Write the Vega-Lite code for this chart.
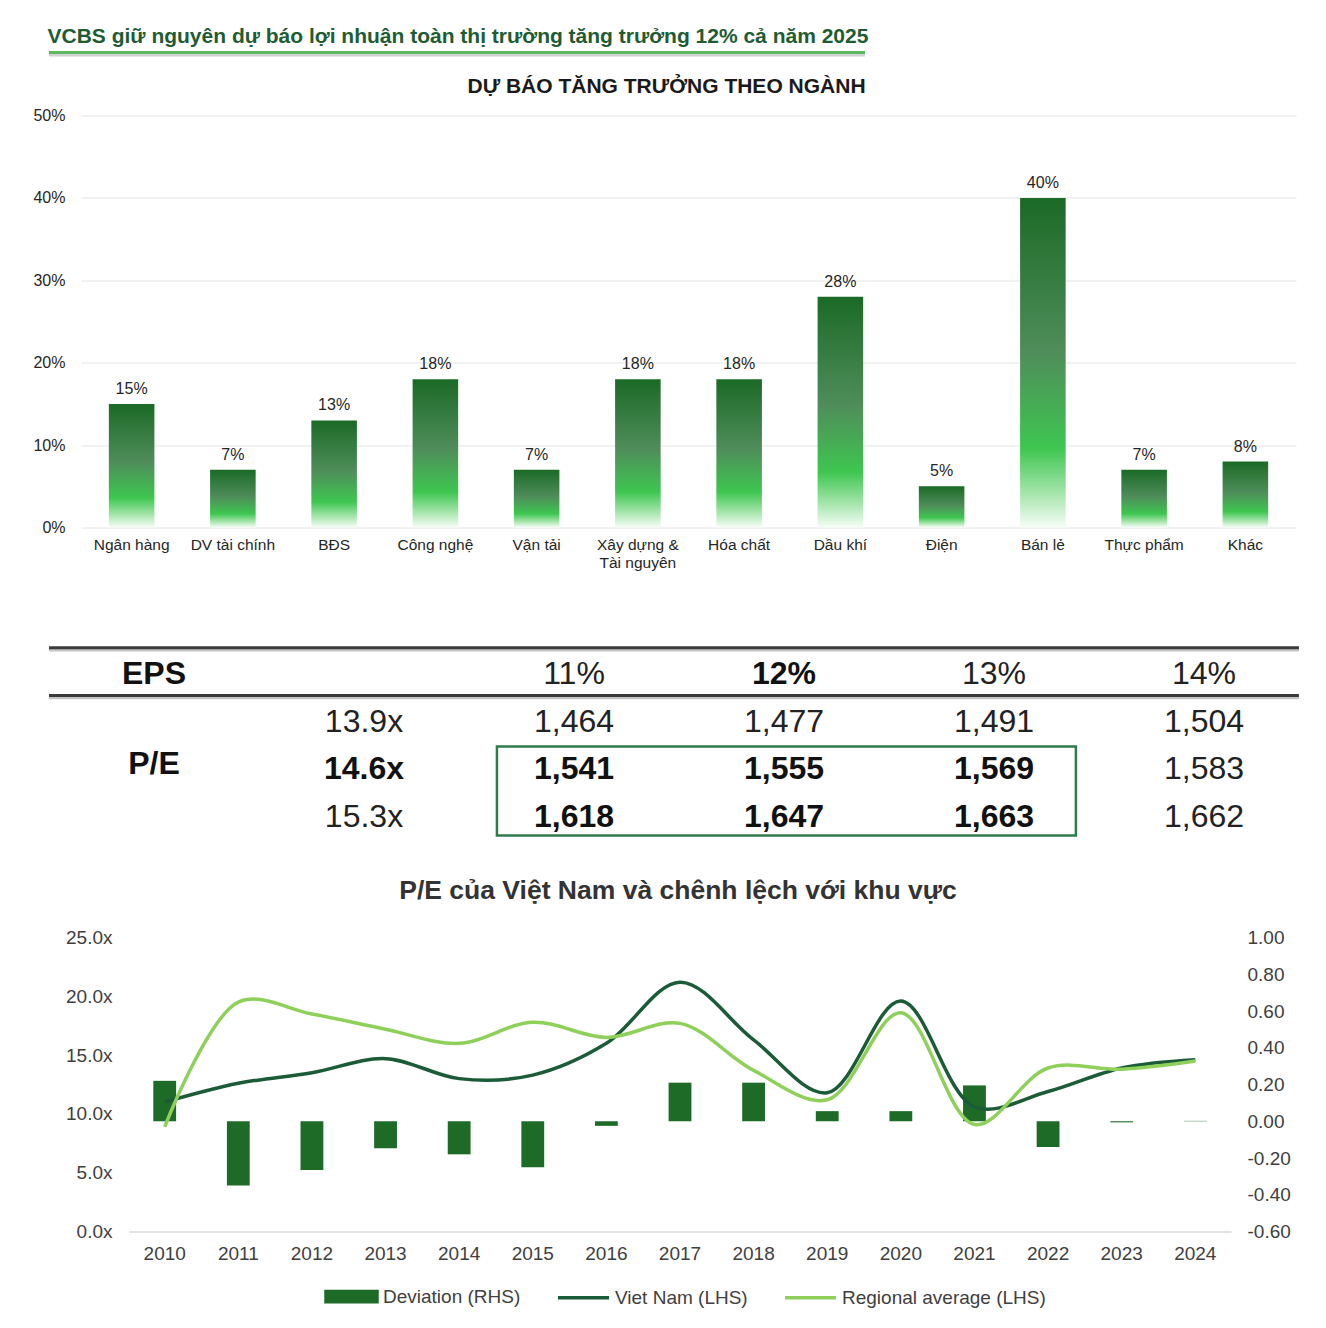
{
  "$schema": "https://vega.github.io/schema/vega-lite/v6.json",
  "background": "white",
  "padding": {"left": 32, "top": 25.5, "right": 10, "bottom": 10},
  "bounds": "flush",
  "spacing": 0,
  "config": {
    "font": "Liberation Sans",
    "view": {"stroke": null},
    "axis": {"labelFont": "Liberation Sans"},
    "legend": {"labelFont": "Liberation Sans"},
    "title": {"font": "Liberation Sans"}
  },
  "datasets": {
    "sectors": [
      {"sector": "Ngân hàng", "growth": 0.15},
      {"sector": "DV tài chính", "growth": 0.07},
      {"sector": "BĐS", "growth": 0.13},
      {"sector": "Công nghệ", "growth": 0.18},
      {"sector": "Vận tải", "growth": 0.07},
      {"sector": "Xây dựng & Tài nguyên", "growth": 0.18},
      {"sector": "Hóa chất", "growth": 0.18},
      {"sector": "Dầu khí", "growth": 0.28},
      {"sector": "Điện", "growth": 0.05},
      {"sector": "Bán lẻ", "growth": 0.40},
      {"sector": "Thực phẩm", "growth": 0.07},
      {"sector": "Khác", "growth": 0.08}
    ],
    "tableLines": [
      {"r": -0.55, "x0": -0.5, "x1": 5.452},
      {"r": 0.45, "x0": -0.5, "x1": 5.452}
    ],
    "tableBox": [
      {"x0": 1.633, "x1": 4.39, "r0": 1.52, "r1": 3.386}
    ],
    "tableCells": [
      {"row": 0, "col": 0, "label": "EPS", "bold": true},
      {"row": 0, "col": 2, "label": "11%", "bold": false},
      {"row": 0, "col": 3, "label": "12%", "bold": true},
      {"row": 0, "col": 4, "label": "13%", "bold": false},
      {"row": 0, "col": 5, "label": "14%", "bold": false},
      {"row": 1, "col": 1, "label": "13.9x", "bold": false},
      {"row": 1, "col": 2, "label": "1,464", "bold": false},
      {"row": 1, "col": 3, "label": "1,477", "bold": false},
      {"row": 1, "col": 4, "label": "1,491", "bold": false},
      {"row": 1, "col": 5, "label": "1,504", "bold": false},
      {"row": 1.877, "col": 0, "label": "P/E", "bold": true},
      {"row": 2, "col": 1, "label": "14.6x", "bold": true},
      {"row": 2, "col": 2, "label": "1,541", "bold": true},
      {"row": 2, "col": 3, "label": "1,555", "bold": true},
      {"row": 2, "col": 4, "label": "1,569", "bold": true},
      {"row": 2, "col": 5, "label": "1,583", "bold": false},
      {"row": 3, "col": 1, "label": "15.3x", "bold": false},
      {"row": 3, "col": 2, "label": "1,618", "bold": true},
      {"row": 3, "col": 3, "label": "1,647", "bold": true},
      {"row": 3, "col": 4, "label": "1,663", "bold": true},
      {"row": 3, "col": 5, "label": "1,662", "bold": false}
    ],
    "pe": [
      {"year": "2010", "dev": 0.22, "vn": 11.0, "reg": 8.9},
      {"year": "2011", "dev": -0.35, "vn": 12.6, "reg": 19.5},
      {"year": "2012", "dev": -0.265, "vn": 13.5, "reg": 18.5},
      {"year": "2013", "dev": -0.147, "vn": 14.7, "reg": 17.2},
      {"year": "2014", "dev": -0.18, "vn": 13.0, "reg": 16.0},
      {"year": "2015", "dev": -0.25, "vn": 13.3, "reg": 17.8},
      {"year": "2016", "dev": -0.025, "vn": 16.0, "reg": 16.5},
      {"year": "2017", "dev": 0.21, "vn": 21.2, "reg": 17.7},
      {"year": "2018", "dev": 0.21, "vn": 16.3, "reg": 13.7},
      {"year": "2019", "dev": 0.055, "vn": 11.8, "reg": 11.2},
      {"year": "2020", "dev": 0.055, "vn": 19.6, "reg": 18.6},
      {"year": "2021", "dev": 0.195, "vn": 10.6, "reg": 9.1},
      {"year": "2022", "dev": -0.14, "vn": 11.9, "reg": 13.9},
      {"year": "2023", "dev": -0.006, "vn": 13.9, "reg": 13.8},
      {"year": "2024", "dev": 0.002, "vn": 14.6, "reg": 14.5}
    ]
  },
  "vconcat": [
    {
      "width": 784,
      "height": 10,
      "title": {
        "text": "VCBS giữ nguyên dự báo lợi nhuận toàn thị trường tăng trưởng 12% cả năm 2025",
        "anchor": "start", "dx": 0, "fontSize": 21, "fontWeight": "bold",
        "color": "#1f5c33", "offset": -25.5, "baseline": "bottom"
      },
      "data": {"values": [{"item": "underline"}]},
      "encoding": {
        "x": {"datum": 0, "type": "quantitative", "scale": {"domain": [0, 1], "range": [-32, 784]}, "axis": null},
        "x2": {"datum": 1},
        "y": {"datum": 0, "type": "quantitative", "scale": {"domain": [0, 1]}, "axis": null}
      },
      "layer": [
        {"mark": {"type": "rule", "color": "#d2d2d2", "strokeWidth": 3, "yOffset": 2.5}},
        {"mark": {"type": "rule", "color": "#5cb85f", "strokeWidth": 3}}
      ]
    },
    {
      "width": 1215,
      "height": 475,
      "title": {
        "text": "DỰ BÁO TĂNG TRƯỞNG THEO NGÀNH",
        "anchor": "middle", "dx": -22, "fontSize": 21, "fontWeight": "bold",
        "color": "#1a1a1a", "offset": -65, "baseline": "bottom"
      },
      "data": {"name": "sectors"},
      "encoding": {
        "x": {
          "field": "sector", "type": "nominal", "sort": null,
          "scale": {"paddingInner": 0.55, "paddingOuter": 0.275},
          "axis": {
            "title": null, "labelAngle": 0, "labelFontSize": 15.5, "labelColor": "#262626",
            "labelPadding": 10, "ticks": false, "domain": false, "labelLineHeight": 18,
            "labelExpr": "datum.label == 'Xây dựng & Tài nguyên' ? ['Xây dựng &', 'Tài nguyên'] : datum.label"
          }
        },
        "y": {
          "field": "growth", "type": "quantitative",
          "scale": {"domain": [0, 0.5765], "nice": false},
          "axis": {
            "values": [0, 0.1, 0.2, 0.3, 0.4, 0.5], "format": ".0%", "title": null,
            "ticks": false, "domain": false, "labelFontSize": 16, "labelColor": "#262626",
            "labelPadding": 16, "gridColor": "#e4e4e4", "gridWidth": 1
          }
        }
      },
      "layer": [
        {
          "mark": {
            "type": "bar",
            "fill": {
              "gradient": "linear", "x1": 0, "y1": 0, "x2": 0, "y2": 1,
              "stops": [
                {"offset": 0, "color": "#1b6a26"},
                {"offset": 0.47, "color": "#4f8d5a"},
                {"offset": 0.76, "color": "#3ec650"},
                {"offset": 0.9, "color": "#a8e6ae"},
                {"offset": 1, "color": "#f7fdf7"}
              ]
            }
          }
        },
        {
          "mark": {"type": "text", "baseline": "alphabetic", "dy": -10, "fontSize": 16, "color": "#262626"},
          "encoding": {"text": {"field": "growth", "format": ".0%"}}
        }
      ]
    },
    {
      "width": 1218,
      "height": 410,
      "layer": [
        {
          "data": {"name": "tableLines"},
          "mark": {"type": "rule", "color": "#c4c4c4", "strokeWidth": 2.5, "yOffset": 2.5},
          "encoding": {
            "x": {"field": "x0", "type": "quantitative", "scale": {"domain": [-0.3476, 5.4524], "nice": false, "zero": false}, "axis": null},
            "x2": {"field": "x1"},
            "y": {"field": "r", "type": "quantitative", "scale": {"domain": [-3.0713, 5.5241], "reverse": true, "nice": false, "zero": false}, "axis": null}
          }
        },
        {
          "data": {"name": "tableLines"},
          "mark": {"type": "rule", "color": "#3a3a3a", "strokeWidth": 3},
          "encoding": {
            "x": {"field": "x0", "type": "quantitative", "scale": {"domain": [-0.3476, 5.4524], "nice": false, "zero": false}, "axis": null},
            "x2": {"field": "x1"},
            "y": {"field": "r", "type": "quantitative", "scale": {"domain": [-3.0713, 5.5241], "reverse": true, "nice": false, "zero": false}, "axis": null}
          }
        },
        {
          "data": {"name": "tableBox"},
          "mark": {"type": "rect", "filled": false, "stroke": "#2e7b4b", "strokeWidth": 2.5},
          "encoding": {
            "x": {"field": "x0", "type": "quantitative", "scale": {"domain": [-0.3476, 5.4524], "nice": false, "zero": false}, "axis": null},
            "x2": {"field": "x1"},
            "y": {"field": "r0", "type": "quantitative", "scale": {"domain": [-3.0713, 5.5241], "reverse": true, "nice": false, "zero": false}, "axis": null},
            "y2": {"field": "r1"}
          }
        },
        {
          "data": {"name": "tableCells"},
          "transform": [{"filter": "!datum.bold"}],
          "mark": {"type": "text", "fontSize": 32, "color": "#222222", "baseline": "middle", "align": "center"},
          "encoding": {
            "x": {"field": "col", "type": "quantitative", "scale": {"domain": [-0.3476, 5.4524], "nice": false, "zero": false}, "axis": null},
            "y": {"field": "row", "type": "quantitative", "scale": {"domain": [-3.0713, 5.5241], "reverse": true, "nice": false, "zero": false}, "axis": null},
            "text": {"field": "label"}
          }
        },
        {
          "data": {"name": "tableCells"},
          "transform": [{"filter": "datum.bold"}],
          "mark": {"type": "text", "fontSize": 32, "fontWeight": "bold", "color": "#111111", "baseline": "middle", "align": "center"},
          "encoding": {
            "x": {"field": "col", "type": "quantitative", "scale": {"domain": [-0.3476, 5.4524], "nice": false, "zero": false}, "axis": null},
            "y": {"field": "row", "type": "quantitative", "scale": {"domain": [-3.0713, 5.5241], "reverse": true, "nice": false, "zero": false}, "axis": null},
            "text": {"field": "label"}
          }
        }
      ]
    },
    {
      "width": 1150,
      "height": 294,
      "title": {
        "text": "P/E của Việt Nam và chênh lệch với khu vực",
        "anchor": "middle", "dx": 22, "fontSize": 26.5, "fontWeight": "bold",
        "color": "#333333", "offset": -3, "baseline": "bottom"
      },
      "data": {"name": "pe"},
      "encoding": {
        "x": {
          "field": "year", "type": "ordinal",
          "scale": {"range": [48, 1150], "paddingInner": 0.69, "paddingOuter": 0.33},
          "axis": {
            "title": null, "labelAngle": 0, "ticks": false, "domainColor": "#d9d9d9",
            "domainWidth": 1.5, "labelFontSize": 19, "labelColor": "#404040", "labelPadding": 13
          }
        }
      },
      "layer": [
        {
          "mark": {"type": "bar"},
          "encoding": {
            "y": {
              "field": "dev", "type": "quantitative",
              "scale": {"domain": [-0.6, 1.0], "nice": false},
              "axis": {
                "orient": "right", "title": null,
                "values": [-0.6, -0.4, -0.2, 0, 0.2, 0.4, 0.6, 0.8, 1.0],
                "labelExpr": "(datum.value < -0.0001 ? '-' : '') + format(abs(datum.value), '.2f')",
                "grid": false, "ticks": false, "domain": false,
                "labelFontSize": 19, "labelColor": "#404040", "labelPadding": 16
              }
            },
            "color": {
              "datum": "Deviation (RHS)", "type": "nominal",
              "scale": {
                "domain": ["Deviation (RHS)", "Viet Nam (LHS)", "Regional average (LHS)"],
                "range": ["#1e6b28", "#1b5b38", "#8fd05b"]
              },
              "legend": {
                "orient": "none", "legendX": 243, "legendY": 1226.5, "direction": "horizontal",
                "title": null, "symbolType": "stroke", "symbolSize": 2601, "symbolStrokeWidth": 3.5,
                "labelFontSize": 19, "labelColor": "#404040", "labelOffset": 4, "columnPadding": 30,
                "labelLimit": 400,
                "encode": {
                  "symbols": {
                    "update": {
                      "shape": {"signal": "datum.label === 'Deviation (RHS)' ? 'M-1,-0.2H1V0.2H-1Z' : 'stroke'"},
                      "fill": {"signal": "datum.label === 'Deviation (RHS)' ? '#1e6b28' : 'transparent'"},
                      "stroke": {"signal": "datum.label === 'Deviation (RHS)' ? 'transparent' : (datum.label === 'Viet Nam (LHS)' ? '#1b5b38' : '#8fd05b')"}
                    }
                  }
                }
              }
            }
          }
        },
        {
          "layer": [
            {
              "mark": {"type": "line", "interpolate": "catmull-rom", "strokeWidth": 3.5},
              "encoding": {
                "y": {
                  "field": "vn", "type": "quantitative",
                  "scale": {"domain": [0, 25], "nice": false},
                  "axis": {
                    "orient": "left", "offset": -48, "title": null, "values": [0, 5, 10, 15, 20, 25],
                    "labelExpr": "format(datum.value, '.1f') + 'x'", "grid": false, "ticks": false,
                    "domain": false, "labelFontSize": 19, "labelColor": "#404040", "labelPadding": 17
                  }
                },
                "color": {"datum": "Viet Nam (LHS)", "type": "nominal"}
              }
            },
            {
              "mark": {"type": "line", "interpolate": "catmull-rom", "strokeWidth": 3.5},
              "encoding": {
                "y": {
                  "field": "reg", "type": "quantitative",
                  "scale": {"domain": [0, 25], "nice": false},
                  "axis": {
                    "orient": "left", "offset": -48, "title": null, "values": [0, 5, 10, 15, 20, 25],
                    "labelExpr": "format(datum.value, '.1f') + 'x'", "grid": false, "ticks": false,
                    "domain": false, "labelFontSize": 19, "labelColor": "#404040", "labelPadding": 17
                  }
                },
                "color": {"datum": "Regional average (LHS)", "type": "nominal"}
              }
            }
          ]
        }
      ],
      "resolve": {"scale": {"y": "independent"}}
    }
  ]
}
